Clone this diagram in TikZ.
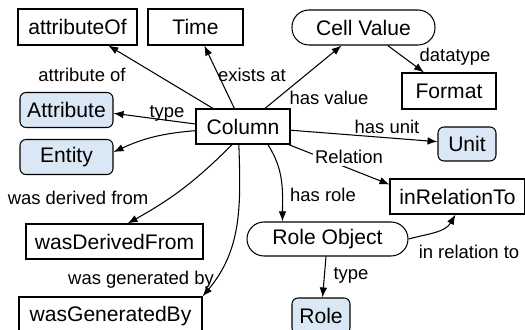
\documentclass[tikz,border=0pt]{standalone}
\usepackage{fontspec}
\setmainfont{Liberation Sans}
\usetikzlibrary{arrows.meta,calc}
\definecolor{clsblue}{RGB}{218,232,245}

\begin{document}
\begin{tikzpicture}[x=0.02cm, y=-0.02cm,
    box/.style={draw, line width=0.6pt, inner sep=0pt, minimum height=0.7cm, font=\fontsize{12}{14}\selectfont},
    pill/.style={box, rounded corners=0.34cm},
    cls/.style={box, fill=clsblue, rounded corners=0.12cm},
    lbl/.style={inner sep=1pt, font=\fontsize{10.5}{12}\selectfont},
    arr/.style={-{Latex[length=2mm, width=1.5mm]}, line width=0.6pt}]
  \useasboundingbox (0,0) rectangle (525,330);
  % TOP ROW
  \node[box, minimum width=2.38cm, minimum height=0.72cm] (attrOf) at (77.5,27) {attributeOf};
  \node[box, minimum width=1.90cm, minimum height=0.72cm] (time) at (195.5,27) {Time};
  \node[pill, minimum width=2.86cm] (cellValue) at (363.5,27.5) {Cell Value};
  \node[box, minimum width=1.88cm, minimum height=0.72cm] (format) at (449,91) {Format};
  % CLASSES
  \node[cls, minimum width=1.86cm] (attribute) at (66.5,110) {Attribute};
  \node[cls, minimum width=1.86cm] (entity) at (66.5,157) {Entity};
  \node[cls, minimum width=1.16cm, minimum height=0.68cm] (unit) at (467,144) {Unit};
  \node[cls, minimum width=1.16cm, minimum height=0.72cm] (role) at (321,316) {Role};
  % CENTRE
  \node[box, minimum width=1.88cm] (column) at (243,126.5) {Column};
  \node[box, minimum width=2.70cm] (inRel) at (457.5,196.5) {inRelationTo};
  \node[pill, minimum width=3.22cm, minimum height=0.68cm] (roleObj) at (327.5,239) {Role Object};
  % BOTTOM
  \node[box, minimum width=3.54cm] (derived) at (114.5,241.5) {wasDerivedFrom};
  \node[box, minimum width=3.66cm, minimum height=0.76cm] (generated) at (110.5,316) {wasGeneratedBy};
  % EDGES OUT OF COLUMN
  \draw[arr] (column) -- (attrOf) node[lbl] at (82,75) {attribute of};
  \draw[arr] (column) -- (time) node[lbl] at (252,75) {exists at};
  \draw[arr] (column) -- (cellValue) node[lbl] at (329,98) {has value};
  \draw[arr] (column.177) -- (attribute.-4) node[lbl] at (167,113) {type};
  \draw[arr] (column.185) to[bend right=10] (entity.6);
  \draw[arr] (column) -- (unit) node[lbl] at (387,127) {has unit};
  \draw[arr] (column) -- (inRel.170) node[lbl, fill=white] at (349,157) {Relation};
  \draw[arr] (column.-36) to[out=-57, in=90] ($(roleObj.north west)+(36,0)$) node[lbl] at (323,195) {has role};
  \draw[arr] (column.-121) to[bend left=8] (derived.54) node[lbl] at (78,198) {was derived from};
  \draw[arr] (column.-103) to[out=-88, in=50] (generated.north east) node[lbl] at (141,280) {was generated by};
  % OTHER EDGES
  \draw[arr] (cellValue) -- (format) node[lbl] at (455,57) {datatype};
  \draw[arr] (roleObj.east) to[out=15, in=-120] ($(inRel.south)+(-2,0)$) node[lbl] at (469,252) {in relation to};
  \draw[arr] (roleObj) -- (role) node[lbl] at (351,275) {type};
\end{tikzpicture}
\end{document}
